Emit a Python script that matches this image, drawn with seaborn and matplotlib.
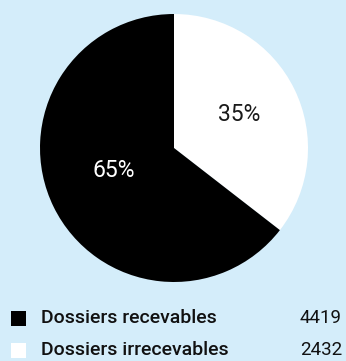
import matplotlib
matplotlib.use('Agg')
import matplotlib.pyplot as plt
import seaborn as sns
from matplotlib.patches import Rectangle

# Data
labels = ['Dossiers recevables', 'Dossiers irrecevables']
counts = [4419, 2432]
percent_labels = ['65%', '35%']
colors = ['#000000', '#ffffff']

bg = '#d4edfa'
sns.set_style('white')
plt.rcParams['font.family'] = ['Roboto', 'DejaVu Sans']

fig = plt.figure(figsize=(3.46, 3.61), dpi=100)
fig.patch.set_facecolor(bg)

# Pie axes (placed in pixels)
W, H = 346, 361
cx, cy, r = 174, 148, 134
ax = fig.add_axes([(cx - r) / W, (H - cy - r) / H, 2 * r / W, 2 * r / H])
ax.set_facecolor(bg)

# white slice first, clockwise from the top
wedges, _ = ax.pie(counts[::-1], colors=colors[::-1], startangle=90,
                   counterclock=False, radius=1,
                   wedgeprops=dict(linewidth=0))
ax.set_xlim(-1, 1)
ax.set_ylim(-1, 1)
ax.set_aspect('equal')
ax.axis('off')

# Percentage labels
ax.text(0.49, 0.25, percent_labels[1], ha='center', va='center',
        fontsize=16.5, color='#1a1a1a')
ax.text(-0.45, -0.17, percent_labels[0], ha='center', va='center',
        fontsize=16.5, color='white')

# Legend drawn by hand
rows_y = [318, 350]
for lab, val, col, y in zip(labels, counts, colors, rows_y):
    fig.patches.append(Rectangle((11 / W, (H - y - 7.5) / H), 15 / W, 15 / H,
                                 transform=fig.transFigure, facecolor=col,
                                 edgecolor='none'))
    fig.text(41 / W, (H - y) / H, lab, ha='left', va='center',
             fontsize=14, fontweight='medium', color='#111111')
    fig.text(342 / W, (H - y) / H, str(val), ha='right', va='center',
             fontsize=13.5, color='#111111')

fig.savefig('out.png', dpi=100, facecolor=bg)
